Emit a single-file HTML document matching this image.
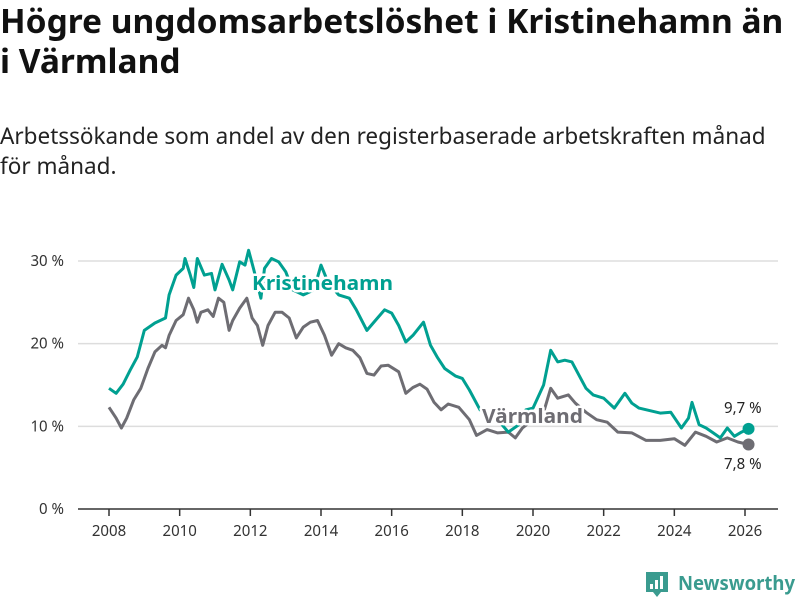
<!DOCTYPE html>
<html><head><meta charset="utf-8">
<style>
body{margin:0;background:#fff;font-family:"Noto Sans","DejaVu Sans","Liberation Sans",sans-serif;}
#wrap{position:relative;width:800px;height:600px;overflow:hidden}
h1{position:absolute;left:0;top:0px;margin:0;font-size:33.5px;line-height:40px;font-weight:bold;color:#111;width:784px}
.sub{position:absolute;left:0;top:121px;font-size:22.5px;line-height:30px;color:#222;width:790px}
svg{position:absolute;left:0;top:0}
</style></head><body>
<div id="wrap">
<h1>Högre ungdomsarbetslöshet i Kristinehamn än i Värmland</h1>
<div class="sub">Arbetssökande som andel av den registerbaserade arbetskraften månad för månad.</div>
<svg id="chart" width="800" height="600"></svg>
</div>
<script>
const yTicks=[0,10,20,30];
const yTickLabels=["0 %","10 %","20 %","30 %"];
const xTicks=[2008,2010,2012,2014,2016,2018,2020,2022,2024,2026];
const kT=[2008.0,2008.2,2008.4,2008.6,2008.8,2009.0,2009.3,2009.6,2009.7,2009.9,2010.1,2010.15,2010.3,2010.4,2010.5,2010.7,2010.9,2011.0,2011.2,2011.4,2011.5,2011.7,2011.85,2011.95,2012.1,2012.3,2012.4,2012.6,2012.8,2013.0,2013.2,2013.5,2013.8,2014.0,2014.2,2014.5,2014.8,2015.0,2015.3,2015.6,2015.8,2016.0,2016.2,2016.4,2016.6,2016.9,2017.1,2017.3,2017.5,2017.8,2018.0,2018.2,2018.5,2018.8,2019.0,2019.3,2019.6,2019.8,2020.0,2020.3,2020.5,2020.7,2020.9,2021.1,2021.3,2021.5,2021.7,2022.0,2022.3,2022.6,2022.8,2023.0,2023.3,2023.6,2023.9,2024.2,2024.4,2024.5,2024.7,2024.9,2025.1,2025.3,2025.5,2025.7,2025.9,2026.1];
const kV=[14.6,14.0,15.1,16.8,18.4,21.6,22.5,23.1,25.9,28.3,29.1,30.3,28.3,26.8,30.3,28.3,28.5,26.5,29.6,27.7,26.5,29.9,29.5,31.3,28.9,25.5,29.1,30.3,29.9,28.7,26.5,25.9,26.5,29.5,27.4,25.9,25.5,24.1,21.6,23.1,24.1,23.7,22.2,20.2,21.0,22.6,19.8,18.3,17.0,16.1,15.8,14.4,12.0,11.4,10.8,9.3,10.2,12.0,12.2,15.0,19.2,17.8,18.0,17.8,16.2,14.6,13.8,13.4,12.2,14.0,12.8,12.2,11.9,11.6,11.7,9.8,11.0,12.9,10.2,9.8,9.2,8.6,9.8,8.8,9.3,9.7];
const vT=[2008.0,2008.2,2008.35,2008.5,2008.7,2008.9,2009.1,2009.3,2009.5,2009.6,2009.7,2009.9,2010.1,2010.25,2010.4,2010.5,2010.6,2010.8,2010.95,2011.1,2011.25,2011.4,2011.5,2011.7,2011.9,2012.05,2012.2,2012.35,2012.5,2012.7,2012.9,2013.1,2013.3,2013.5,2013.7,2013.9,2014.1,2014.3,2014.5,2014.7,2014.9,2015.1,2015.3,2015.5,2015.7,2015.9,2016.2,2016.4,2016.6,2016.8,2017.0,2017.2,2017.4,2017.6,2017.9,2018.2,2018.4,2018.7,2019.0,2019.3,2019.5,2019.7,2020.0,2020.3,2020.5,2020.7,2021.0,2021.2,2021.5,2021.8,2022.1,2022.4,2022.8,2023.2,2023.6,2024.0,2024.3,2024.6,2024.9,2025.2,2025.5,2025.8,2026.1];
const vV=[12.3,11.0,9.8,11.0,13.2,14.6,17.0,19.0,19.8,19.5,21.0,22.8,23.5,25.5,24.1,22.6,23.8,24.1,23.3,25.5,25.0,21.6,22.8,24.3,25.5,23.1,22.2,19.8,22.2,23.8,23.8,23.1,20.7,22.0,22.6,22.8,21.0,18.6,20.0,19.5,19.2,18.3,16.4,16.2,17.3,17.4,16.6,14.0,14.7,15.1,14.5,12.9,12.0,12.7,12.3,10.8,8.9,9.6,9.2,9.3,8.6,9.8,10.8,11.7,14.6,13.4,13.8,12.8,11.7,10.8,10.5,9.3,9.2,8.3,8.3,8.5,7.7,9.3,8.8,8.1,8.6,8.1,7.8];
const NS="http://www.w3.org/2000/svg";
const svg=document.getElementById('chart');
const x=t=>109+(t-2008)*(745-109)/18;
const y=v=>509-v*(509-261)/30;
function mk(tag,attrs,parent){const e=document.createElementNS(NS,tag);for(const k in attrs)e.setAttribute(k,attrs[k]);(parent||svg).appendChild(e);return e;}
yTicks.forEach((v,i)=>{
  if(v>0){const g=mk('line',{x1:78,x2:778,y1:y(v),y2:y(v),stroke:'#ddd','stroke-width':1.5});
  
  }
  const t=mk('text',{x:64,y:y(v)+5,'text-anchor':'end','font-size':15,fill:'#333'});
  t.textContent=yTickLabels[i];
  
  
});
const ax=mk('line',{x1:78,x2:778,y1:509,y2:509,stroke:'#333','stroke-width':1.5});


xTicks.forEach(t=>{
  const l=mk('line',{x1:x(t),x2:x(t),y1:509,y2:516,stroke:'#333','stroke-width':1.5});
  
  
  const tx=mk('text',{x:x(t),y:536,'text-anchor':'middle','font-size':15,fill:'#333'});
  tx.textContent=t;
  
  
});
function line(T,V,col,name){
  const d=T.map((t,i)=>(i?'L':'M')+x(t).toFixed(1)+','+y(V[i]).toFixed(1)).join('');
  const p=mk('path',{d:d,fill:'none',stroke:col,'stroke-width':3,'stroke-linejoin':'round'});
  
  
  const n=T.length-1;
  const c=mk('circle',{cx:x(T[n]),cy:y(V[n]),r:6,fill:col});
  
  
}
line(vT,vV,'#6e6d73','varmland-line');
line(kT,kV,'#00a091','kristinehamn-line');
function label(txt,xx,yy,col,name,size,bold,len){
  const a={x:xx,y:yy,'font-size':size,'font-weight':bold?'bold':'normal',fill:col,stroke:'#fff','stroke-width':bold?5:4,'paint-order':'stroke','stroke-linejoin':'round'};
  if(len){a.textLength=len;a.lengthAdjust='spacingAndGlyphs';}
  const t=mk('text',a);
  t.textContent=txt;
  
  
}
label('Kristinehamn',252,290,'#00a091','kristinehamn-label',20,true,141);
label('Värmland',482,423,'#6e6d73','varmland-label',20,true,101);
label('9,7 %',724,413,'#222','kristinehamn-value-label',15,false);
label('7,8 %',724,469,'#222','varmland-value-label',15,false);
const lg=mk('g',{});


mk('path',{d:'M646,572 h22 v20 h-7 l-4,5 l-4,-5 h-7 z',fill:'#3a9b8f'},lg);
mk('rect',{x:650,y:584,width:3,height:5,fill:'#fff'},lg);
mk('rect',{x:655,y:580,width:3,height:9,fill:'#fff'},lg);
mk('rect',{x:660,y:576,width:3,height:13,fill:'#fff'},lg);
const lt=mk('text',{x:678,y:590,'font-size':20,'font-weight':'bold',fill:'#3a9b8f',textLength:117,lengthAdjust:'spacingAndGlyphs'},lg);
lt.textContent='Newsworthy';
</script>
</body></html>
